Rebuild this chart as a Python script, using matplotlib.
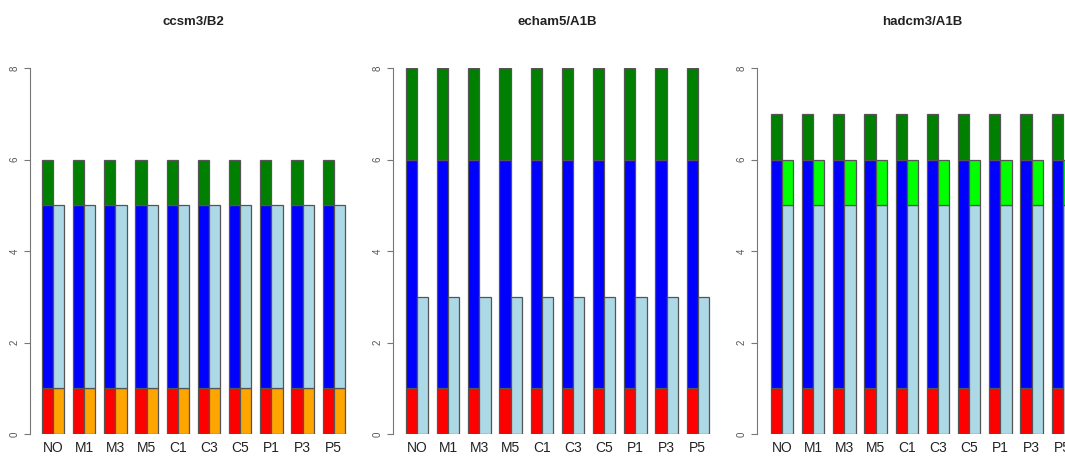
import matplotlib.pyplot as plt
import numpy as np

plt.rcParams['font.family'] = ['Liberation Sans', 'DejaVu Sans']

labels = ['NO', 'M1', 'M3', 'M5', 'C1', 'C3', 'C5', 'P1', 'P3', 'P5']
titles = ['ccsm3/B2', 'echam5/A1B', 'hadcm3/A1B']

# left bar of each pair: red / blue / green stacked
ccsm3_red = [1, 1, 1, 1, 1, 1, 1, 1, 1, 1]
ccsm3_blue = [4, 4, 4, 4, 4, 4, 4, 4, 4, 4]
ccsm3_green = [1, 1, 1, 1, 1, 1, 1, 1, 1, 1]
# right bar: orange / lightblue
ccsm3_orange = [1, 1, 1, 1, 1, 1, 1, 1, 1, 1]
ccsm3_lblue = [4, 4, 4, 4, 4, 4, 4, 4, 4, 4]

echam5_red = [1, 1, 1, 1, 1, 1, 1, 1, 1, 1]
echam5_blue = [5, 5, 5, 5, 5, 5, 5, 5, 5, 5]
echam5_green = [2, 2, 2, 2, 2, 2, 2, 2, 2, 2]
echam5_lblue = [3, 3, 3, 3, 3, 3, 3, 3, 3, 3]

hadcm3_red = [1, 1, 1, 1, 1, 1, 1, 1, 1, 1]
hadcm3_blue = [5, 5, 5, 5, 5, 5, 5, 5, 5, 5]
hadcm3_green = [1, 1, 1, 1, 1, 1, 1, 1, 1, 1]
hadcm3_lblue = [5, 5, 5, 5, 5, 5, 5, 5, 5, 5]
hadcm3_lime = [1, 1, 1, 1, 1, 1, 1, 1, 1, 1]

panels = [
    ([(ccsm3_red, 'red'), (ccsm3_blue, 'blue'), (ccsm3_green, '#008000')],
     [(ccsm3_orange, 'orange'), (ccsm3_lblue, '#ADD8E6')]),
    ([(echam5_red, 'red'), (echam5_blue, 'blue'), (echam5_green, '#008000')],
     [(echam5_lblue, '#ADD8E6')]),
    ([(hadcm3_red, 'red'), (hadcm3_blue, 'blue'), (hadcm3_green, '#008000')],
     [(hadcm3_lblue, '#ADD8E6'), (hadcm3_lime, '#00FF00')]),
]

W, H = 1065, 457
fig = plt.figure(figsize=(W / 100, H / 100), dpi=100)

step = 31.2          # pixels per group
bw = 0.36            # bar width in group units
axis_px = [30, 393, 757]     # y axis position
center_px = [53, 417, 782]   # first group center
y0_px, y8_px = 434, 68
edge = '#555555'

x = np.arange(len(labels))
for k, (left, right) in enumerate(panels):
    xl = (axis_px[k] - center_px[k]) / step
    width_px = (9.7 - xl) * step
    ax = fig.add_axes([axis_px[k] / W, (H - y0_px) / H,
                       width_px / W, (y0_px - y8_px) / H])
    bottom = np.zeros(len(labels))
    for vals, c in left:
        ax.bar(x - bw / 2, vals, bw, bottom=bottom, color=c,
               edgecolor=edge, linewidth=0.9)
        bottom += np.array(vals)
    bottom = np.zeros(len(labels))
    for vals, c in right:
        ax.bar(x + bw / 2, vals, bw, bottom=bottom, color=c,
               edgecolor=edge, linewidth=0.9)
        bottom += np.array(vals)
    ax.set_xlim(xl, 9.7)
    ax.set_ylim(0, 8)
    for s in ['top', 'right', 'bottom']:
        ax.spines[s].set_visible(False)
    ax.spines['left'].set_color('#777777')
    ax.spines['left'].set_bounds(0, 8)
    ax.set_yticks([0, 2, 4, 6, 8])
    ax.tick_params(axis='y', colors='#777777', labelsize=7, length=4,
                   labelcolor='#555555')
    for t in ax.get_yticklabels():
        t.set_rotation(90)
        t.set_va('center')
    ax.set_xticks(x)
    ax.set_xticklabels(labels, fontsize=10, color='#222222')
    ax.tick_params(axis='x', length=0, pad=5)
    ax.patch.set_alpha(0)

for k, t in enumerate(titles):
    cx = (center_px[k] + 4.5 * step) / W
    fig.text(cx, 1 - 22 / H, t, ha='center', va='center',
             fontsize=9.5, fontweight='bold', color='#222222')

fig.savefig('out.png', dpi=100)
